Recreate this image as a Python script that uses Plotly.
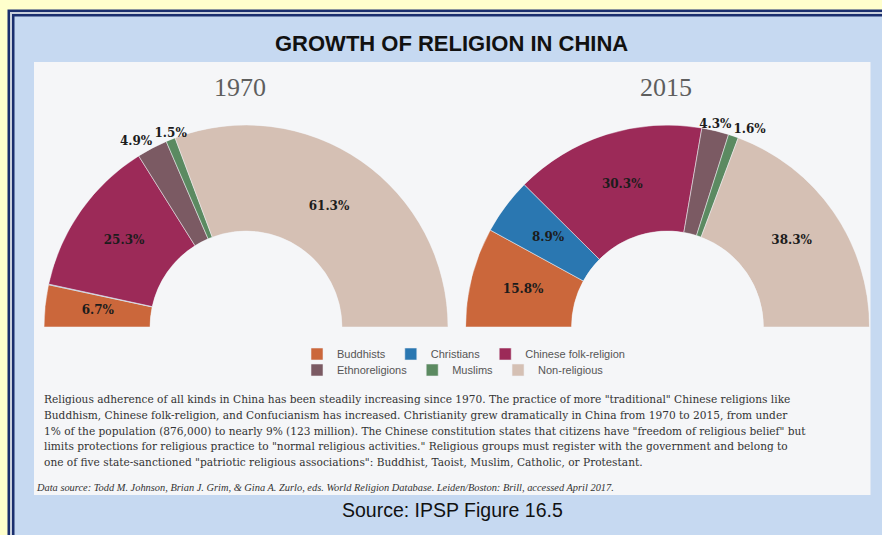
import plotly.graph_objects as go

W, H = 882, 535

# data
categories = ['Buddhists', 'Christians', 'Chinese folk-religion',
              'Ethnoreligions', 'Muslims', 'Non-religious']
share_1970 = [6.7, 0.1, 25.3, 4.9, 1.5, 61.3]
share_2015 = [15.8, 8.9, 30.3, 4.3, 1.6, 38.3]
labels_1970 = ['6.7%', '', '25.3%', '4.9%', '1.5%', '61.3%']
labels_2015 = ['15.8%', '8.9%', '30.3%', '4.3%', '1.6%', '38.3%']
years = ['1970', '2015']

paragraph = [
    'Religious adherence of all kinds in China has been steadily increasing since 1970. The practice of more "traditional" Chinese religions like',
    'Buddhism, Chinese folk-religion, and Confucianism has increased. Christianity grew dramatically in China from 1970 to 2015, from under',
    '1% of the population (876,000) to nearly 9% (123 million). The Chinese constitution states that citizens have "freedom of religious belief" but',
    'limits protections for religious practice to "normal religious activities." Religious groups must register with the government and belong to',
    'one of five state-sanctioned "patriotic religious associations": Buddhist, Taoist, Muslim, Catholic, or Protestant.',
]
data_source = ('Data source: Todd M. Johnson, Brian J. Grim, & Gina A. Zurlo, eds. '
               'World Religion Database. Leiden/Boston: Brill, accessed April 2017.')

colors = ['#CB673B', '#2A77B1', '#9C2A58', '#7B5A63', '#5B8A61', '#D5C0B4']

# label placement (radius in axis units, text position) per slice
# small slices get their label just outside the outer rim
place_1970 = [(0.5, 'middle center'), (0.5, 'middle center'), (0.5, 'middle center'),
              (0.999, 'top left'), (0.999, 'top center'), (0.47, 'middle center')]
place_2015 = [(0.5, 'middle center'), (0.5, 'middle center'), (0.5, 'middle center'),
              (0.999, 'top center'), (0.999, 'top right'), (0.52, 'middle center')]


def px(x):
    return x / W


def py(y):
    return 1 - y / H


def spans(vals):
    tot = sum(vals)
    widths = [v / tot * 180 for v in vals]
    mids = []
    acc = 0
    for w in widths:
        mids.append(acc + w / 2)
        acc += w
    return widths, mids


fig = go.Figure()

charts = [('polar', share_1970, labels_1970, place_1970, True),
          ('polar2', share_2015, labels_2015, place_2015, False)]

for sub, vals, labs, place, legend_on in charts:
    widths, mids = spans(vals)
    for i, cat in enumerate(categories):
        fig.add_trace(go.Barpolar(
            r=[1], theta=[mids[i]], width=[widths[i]],
            name=cat, subplot=sub,
            marker=dict(color=colors[i], line=dict(color='rgba(240,240,244,0.9)', width=0.6)),
            showlegend=legend_on,
            legend='legend' if i < 3 else 'legend2',
            hoverinfo='name',
        ))
    fig.add_trace(go.Scatterpolar(
        r=[p[0] for p in place], theta=mids, text=labs,
        mode='text', textposition=[p[1] for p in place],
        textfont=dict(family='DejaVu Serif', size=12, color='#1c1c1c', weight='bold'),
        cliponaxis=False, showlegend=False, hoverinfo='skip', subplot=sub,
    ))

polar_common = dict(
    sector=[0, 180], hole=0.475, bgcolor='rgba(0,0,0,0)', barmode='overlay',
    radialaxis=dict(visible=False, range=[0, 1]),
    angularaxis=dict(visible=False, rotation=180, direction='clockwise'),
)

shapes = [
    dict(type='rect', x0=px(7.5), x1=px(900), y0=py(9.5), y1=py(560),
         fillcolor='#1B2F6E', line_width=0),
    dict(type='rect', x0=px(10), x1=px(900), y0=py(12), y1=py(560),
         fillcolor='#C9D0DC', line_width=0),
    dict(type='rect', x0=px(12), x1=px(900), y0=py(14), y1=py(560),
         fillcolor='#1B2F6E', line_width=0),
    dict(type='rect', x0=px(14.5), x1=px(900), y0=py(16.5), y1=py(560),
         fillcolor='#C6D9F1', line_width=0),
    dict(type='rect', x0=px(34), x1=px(870.5), y0=py(62), y1=py(495),
         fillcolor='#F5F6F8', line_width=0),
]
for s in shapes:
    s.update(xref='paper', yref='paper', layer='below')

ann = [
    dict(text='<b>GROWTH OF RELIGION IN CHINA</b>', x=px(451), y=py(44),
         font=dict(family='Liberation Sans', size=22, color='#111')),
    dict(text=years[0], x=px(240), y=py(88),
         font=dict(family='Liberation Serif', size=26, color='#5e5e5e')),
    dict(text=years[1], x=px(666), y=py(88),
         font=dict(family='Liberation Serif', size=26, color='#5e5e5e')),
    dict(text=data_source, x=px(34), y=py(487), xanchor='left',
         font=dict(family='Liberation Serif', size=10.4, color='#333', style='italic')),
    dict(text='Source: IPSP Figure 16.5', x=px(452), y=py(510),
         font=dict(family='Liberation Sans', size=19.5, color='#111')),
]
for k, line in enumerate(paragraph):
    ann.append(dict(text=line, x=px(42), y=py(399 + k * 15.75), xanchor='left',
                    font=dict(family='DejaVu Serif', size=10.6, color='#333')))
for a in ann:
    a.update(xref='paper', yref='paper', showarrow=False)
    a.setdefault('xanchor', 'center')
    a.setdefault('yanchor', 'middle')

legend_style = dict(orientation='h', xanchor='left', yanchor='middle',
                    bgcolor='rgba(0,0,0,0)', itemclick=False, itemdoubleclick=False,
                    font=dict(family='Liberation Sans', size=11, color='#555'))

fig.update_layout(
    width=W, height=H,
    margin=dict(l=0, r=0, t=0, b=0),
    paper_bgcolor='#FFFFCC',
    polar=dict(domain=dict(x=[px(44), px(448)], y=[py(327), py(125)]), **polar_common),
    polar2=dict(domain=dict(x=[px(465.5), px(869.5)], y=[py(327), py(125)]), **polar_common),
    legend=dict(x=px(297), y=py(354), **legend_style),
    legend2=dict(x=px(297), y=py(370), **legend_style),
    shapes=shapes,
    annotations=ann,
)

# page body has a default margin; drop it so the figure sits at the window corner
fig.write_html('out.html', config={'displayModeBar': False},
               post_script="document.body.style.margin='0';")
